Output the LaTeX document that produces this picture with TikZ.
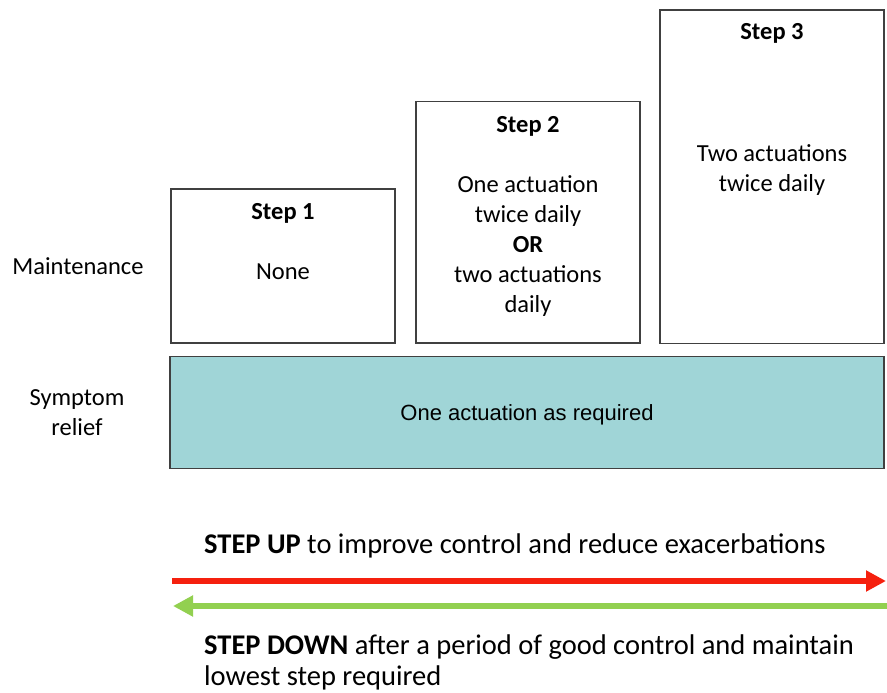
\documentclass[tikz,border=0pt]{standalone}
\usepackage{fontspec}
\setmainfont{Carlito}
\newfontfamily\arialfont{Liberation Sans}
\usetikzlibrary{arrows.meta}
\definecolor{reliefteal}{RGB}{160,213,215}
\definecolor{upred}{RGB}{245,32,14}
\definecolor{downgreen}{RGB}{146,208,80}
\definecolor{boxline}{RGB}{64,64,64}
\tikzset{
  stepbox/.style={draw=boxline,line width=1.3pt,minimum width=224pt,minimum height=#1,inner sep=0pt},
  txt/.style={font=\fontsize{24.5}{30}\selectfont,align=center,anchor=base,inner sep=0pt}
}
\begin{document}
\begin{tikzpicture}[x=1pt,y=-1pt]
\useasboundingbox (0,0) rectangle (887,693);
% edit here for the boxes
\node[stepbox=154pt] (step1) at (283,266) {};
\node[stepbox=241.5pt] (step2) at (528,222.25) {};
\node[stepbox=333.5pt] (step3) at (772,176.75) {};
\node[draw=boxline,fill=reliefteal,line width=1.3pt,minimum width=714pt,minimum height=112pt,inner sep=0pt] (relief) at (527,412.5) {};
% edit here for the texts in the boxes (base = last line)
\node[txt] (step1head) at (283,219) {\textbf{Step 1}};
\node[txt] (step1dose) at (283,279) {None};
\node[txt] (step2head) at (528,132.5) {\textbf{Step 2}};
\node[txt] (step2dose) at (528,312) {One actuation\\twice daily\\\textbf{OR}\\two actuations\\daily};
\node[txt] (step3head) at (772,39.5) {\textbf{Step 3}};
\node[txt] (step3dose) at (772,191) {Two actuations\\twice daily};
\node[txt,font=\arialfont\fontsize{22}{26}\selectfont] (reliefdose) at (527,420) {One actuation as required};
% edit here for the row names
\node[txt] (maint) at (78,274) {Maintenance};
\node[txt] (symptom) at (77,435) {Symptom\\relief};
% edit here for the arrows
\coordinate (upstart) at (172,581);
\coordinate (upend) at (886,581);
\coordinate (downstart) at (887,606);
\coordinate (downend) at (173,606);
\draw[upred,line width=6.5pt,-{Triangle[length=20pt,width=20pt]}] (upstart) -- (upend);
\draw[downgreen,line width=6pt,-{Triangle[length=20pt,width=20pt]}] (downstart) -- (downend);
\node[txt,anchor=base west,font=\fontsize{28.5}{31}\selectfont] (stepup) at (204,553) {\textbf{STEP UP} to improve control and reduce exacerbations};
\node[txt,anchor=base west,align=left,font=\fontsize{28.5}{31}\selectfont] (stepdown) at (204,685) {\textbf{STEP DOWN} after a period of good control and maintain\\lowest step required};
\end{tikzpicture}
\end{document}
